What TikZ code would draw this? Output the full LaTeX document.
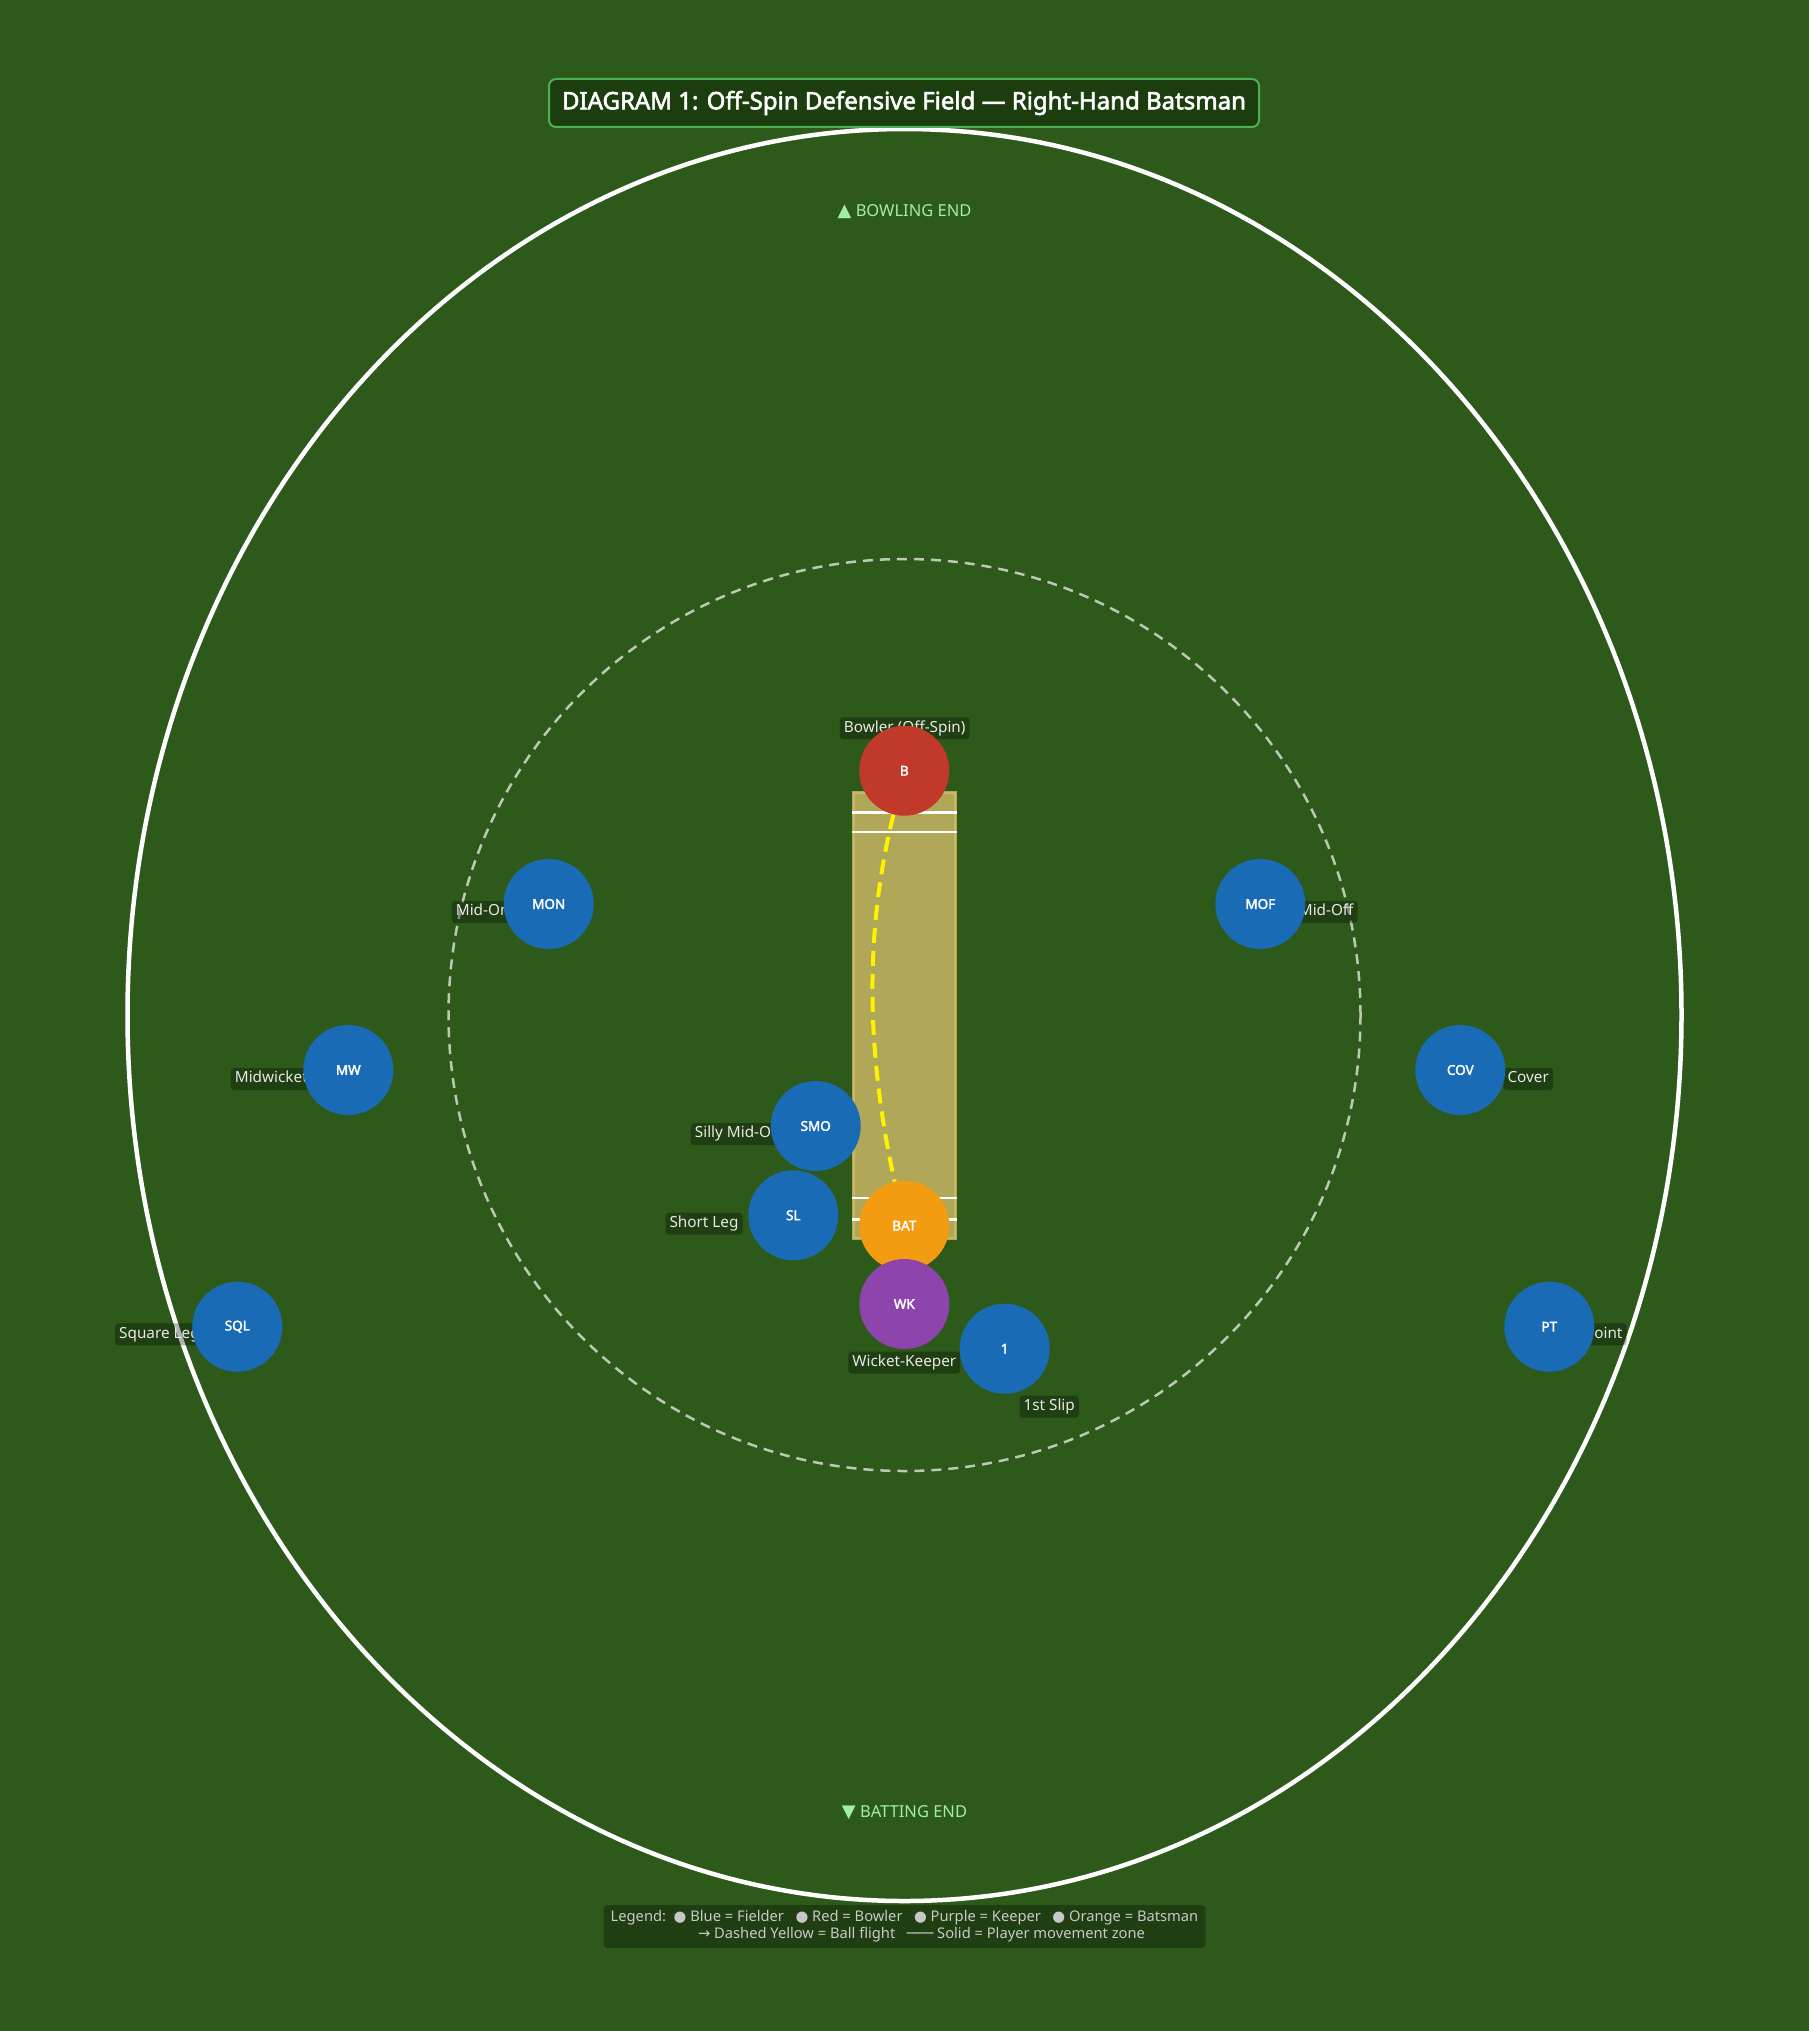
\documentclass[tikz,border=0pt]{standalone}
\usepackage{fontspec}
\setmainfont{Noto Sans}
\newfontfamily\boldf{Noto Sans}[FakeBold=2.4]
\newfontfamily\symf{DejaVu Sans}
\definecolor{bg}{HTML}{2D5A1B}
\definecolor{titlefill}{HTML}{1C3D0E}
\definecolor{titleborder}{HTML}{4CAF50}
\definecolor{pitchfill}{HTML}{B0A858}
\definecolor{pitchedge}{HTML}{C8B868}
\definecolor{ringc}{HTML}{BCC8B4}
\definecolor{fblue}{HTML}{1A6BB5}
\definecolor{fred}{HTML}{C0392B}
\definecolor{forange}{HTML}{F39C12}
\definecolor{fpurple}{HTML}{8E44AD}
\definecolor{labtext}{HTML}{E8E8E8}
\definecolor{endtext}{HTML}{A0F0A0}
\definecolor{legtext}{HTML}{C8C8C8}
\tikzset{
  player/.style={circle, minimum size=90pt, inner sep=0pt, text=white,
    font=\boldf\fontsize{13.5}{15}\selectfont},
  fielder/.style={player, fill=fblue},
  bowlerc/.style={player, fill=fred},
  batc/.style={player, fill=forange},
  keeperc/.style={player, fill=fpurple},
  plabel/.style={fill=black, fill opacity=0.3, text opacity=1, text=labtext,
    rounded corners=3pt, inner xsep=4pt, inner ysep=0pt, minimum height=22pt,
    text height=11pt, text depth=3.5pt, font=\fontsize{15.3}{18}\selectfont},
  endlabel/.style={text=endtext, font=\fontsize{16.5}{19}\selectfont},
}
\begin{document}
\begin{tikzpicture}[x=1pt,y=-1pt]
\fill[bg] (0,0) rectangle (1809,2031);
\useasboundingbox (0,0) rectangle (1809,2031);
% boundary
\draw[white, line width=4.5pt] (904.5,1015) ellipse [x radius=777pt, y radius=886pt];
% inner ring
\draw[ringc, line width=2.5pt, dash pattern=on 10pt off 7pt] (904.5,1015) circle [radius=456pt];
% pitch
\fill[pitchfill] (852,791) rectangle (957,1240);
\draw[pitchedge, line width=1.5pt] (854,793) rectangle (955,1238);
\draw[white, line width=3pt] (852,812) -- (957,812);
\draw[white, line width=2pt] (852,832) -- (957,832);
\draw[white, line width=2pt] (852,1198) -- (957,1198);
\draw[white, line width=3pt] (852,1219) -- (957,1219);
% labels
\node[plabel] (lbowl) at (904.7,728.3) {Bowler (Off-Spin)};
\node[plabel, anchor=west] (lmon) at (451.7,912) {Mid-On};
\node[plabel, anchor=west] (lmw) at (230.7,1079) {Midwicket};
\node[plabel, anchor=east] (lmof) at (1357.7,912) {Mid-Off};
\node[plabel, anchor=west] (lcov) at (1503.3,1079) {Cover};
\node[plabel, anchor=west] (lsql) at (115,1334.3) {Square Leg};
\node[plabel, anchor=east] (lpt) at (1626.7,1334.3) {Point};
\node[plabel, anchor=west] (lsmo) at (690.7,1134.2) {Silly Mid-On};
\node[plabel, anchor=east] (lsl) at (742.7,1223.7) {Short Leg};
\node[plabel] (lwk) at (904.3,1362.5) {Wicket-Keeper};
\node[plabel] (lslip) at (1049.2,1406.7) {1st Slip};
% players
\node[bowlerc] (b) at (904.3,770.7) {B};
\node[fielder] (mon) at (548.7,904) {MON};
\node[fielder] (mof) at (1260.3,904) {MOF};
\node[fielder] (mw) at (348.3,1070) {MW};
\node[fielder] (cov) at (1460.3,1070) {COV};
\node[fielder] (smo) at (815.7,1126) {SMO};
\node[fielder] (sl) at (793.3,1215.3) {SL};
\node[batc] (bat) at (904.3,1225.7) {BAT};
\node[keeperc] (wk) at (904.3,1304) {WK};
\node[fielder] (slip) at (1004.7,1348.7) {1};
\node[fielder] (sql) at (237.3,1326.7) {SQL};
\node[fielder] (pt) at (1549.3,1326.7) {PT};
% ball flight
\draw[yellow, line width=4pt, dash pattern=on 15pt off 8pt]
  (b) .. controls (862.7,938.7) and (868,1060.6) .. (bat);
% ends
\node[endlabel] (bowlend) at (904.5,212) {{\symf\fontsize{18}{19}\selectfont ▲} BOWLING END};
\node[endlabel] (batend) at (904.5,1813) {{\symf\fontsize{18}{19}\selectfont ▼} BATTING END};
% title
\node[fill=titlefill, draw=titleborder, line width=2pt, rounded corners=7pt,
  minimum width=710pt, minimum height=48pt, inner sep=0pt, text=white,
  font=\boldf\fontsize{24}{28}\selectfont] (title) at (904,103)
  {DIAGRAM 1: Off-Spin Defensive Field — Right-Hand Batsman};
% legend
\node[fill=black, fill opacity=0.3, text opacity=1, text=legtext, rounded corners=4pt,
  minimum width=602pt, minimum height=43pt, inner sep=0pt, align=center,
  font=\fontsize{14.7}{17}\selectfont] (legend) at (904.5,1926.5)
  {Legend:\ \ {\symf ●} Blue = Fielder\ \ \ {\symf ●} Red = Bowler\ \ \ {\symf ●} Purple = Keeper\ \ \ {\symf ●} Orange = Batsman\\
   \hspace*{34pt}{\symf →} Dashed Yellow = Ball flight\ \ \ {\symf ───} Solid = Player movement zone};
\end{tikzpicture}
\end{document}
